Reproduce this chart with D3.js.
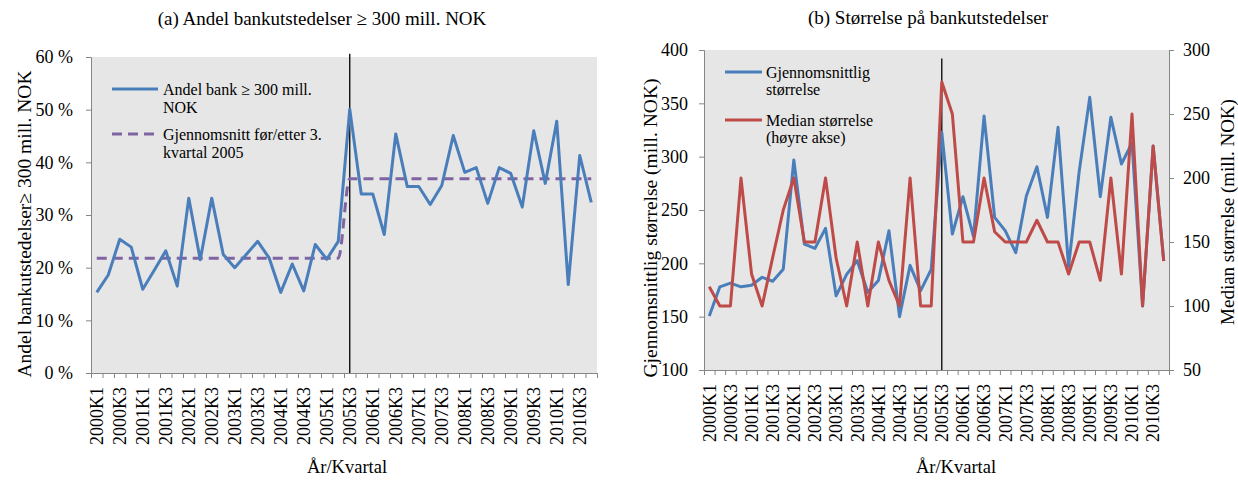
<!DOCTYPE html>
<html>
<head>
<meta charset="utf-8">
<script src="https://cdnjs.cloudflare.com/ajax/libs/d3/7.8.5/d3.min.js"></script>
<style>
  body { margin: 0; background: #fff; }
  svg text { font-family: "Liberation Serif", "Times New Roman", serif; fill: #000; }
  .axis path, .axis line { stroke: #868686; }
</style>
</head>
<body>
<div id="chart"></div>
<script>
/* Categories (quarters) */
var quarters = ["2000K1","2000K2","2000K3","2000K4","2001K1","2001K2","2001K3","2001K4",
                "2002K1","2002K2","2002K3","2002K4","2003K1","2003K2","2003K3","2003K4",
                "2004K1","2004K2","2004K3","2004K4","2005K1","2005K2","2005K3","2005K4",
                "2006K1","2006K2","2006K3","2006K4","2007K1","2007K2","2007K3","2007K4",
                "2008K1","2008K2","2008K3","2008K4","2009K1","2009K2","2009K3","2009K4",
                "2010K1","2010K2","2010K3","2010K4"];

/* (a) Andel bank >= 300 mill. NOK, percent */
var andelBank = [15.3,18.6,25.4,23.9,15.9,19.5,23.2,16.5,33.2,21.5,
                 33.2,22.5,20.0,22.5,25.0,21.8,15.3,20.7,15.6,24.4,
                 21.6,25.0,50.1,34.0,34.0,26.3,45.4,35.4,35.4,32.0,
                 35.6,45.1,38.1,39.0,32.2,39.0,37.9,31.5,46.0,36.0,
                 47.8,16.8,41.3,32.4];

/* (a) Gjennomsnitt før/etter 3. kvartal 2005 */
var gjSnitt = [21.8,21.8,21.8,21.8,21.8,21.8,21.8,21.8,21.8,21.8,21.8,
               21.8,21.8,21.8,21.8,21.8,21.8,21.8,21.8,21.8,21.8,21.8,
               36.9,36.9,36.9,36.9,36.9,36.9,36.9,36.9,36.9,36.9,36.9,
               36.9,36.9,36.9,36.9,36.9,36.9,36.9,36.9,36.9,36.9,36.9];

/* (b) Gjennomsnittlig størrelse (left axis) and median (right axis), mill. NOK */
var snittStr = [150.6,178,181.5,178,179.5,186.9,183.2,194.5,296.9,218,
                214,232.8,169.5,189.7,202.5,172.8,183.8,230.6,150,198.1,
                174.4,194.4,322.8,227.5,262.5,225,338.1,243.1,230.6,210,
                263.1,290.6,243.1,327.5,196.9,286,355.6,262.5,336.9,293.1,
                313,160,310,202.5];
var medianStr = [115,100,100,200,125,100,138,175,200,150,
                 150,200,137.5,100,150,100,150,120,100,200,
                 100,100,275,250,150,150,200,158,150,150,
                 150,167,150,150,125,150,150,120,200,125,
                 250,100,225,135];

/* Tick values */
var ticksA = [0,10,20,30,40,50,60];
var ticksBLeft = [100,150,200,250,300,350,400];
var ticksBRight = [50,100,150,200,250,300];
var breakQuarter = "2005K3";

var blue = "#4a7ebb", red = "#be4b48", purple = "#8064a2", plotBg = "#e6e6e6";

var svg = d3.select("#chart").append("svg")
    .attr("width", 1238).attr("height", 481);

/* Quarter scale: ticks between categories, points in the middle */
function makeX(left, right) {
    var band = d3.scaleBand().domain(quarters).range([left, right]).padding(0);
    var edges = d3.scaleLinear().domain([0, quarters.length]).range([left, right]);
    return {band: band, edges: edges, mid: function(q) { return band(q) + band.bandwidth() / 2; }};
}

function xAxis(x, bottom, titleX) {
    svg.append("g")
        .attr("class", "axis")
        .attr("transform", "translate(0," + bottom + ")")
        .call(d3.axisBottom(x.edges).tickValues(d3.range(quarters.length + 1)).tickSize(5).tickFormat(""))
        .call(function(g) { g.select(".domain").attr("stroke", "#868686"); });

    svg.append("g").selectAll("text")
        .data(quarters.filter(function(d, i) { return i % 2 === 0; }))
        .enter().append("text")
        .attr("transform", function(d) { return "translate(" + x.mid(d) + "," + (bottom + 14) + ") rotate(-90)"; })
        .attr("text-anchor", "end")
        .attr("dy", ".35em")
        .style("font-size", "18px")
        .text(function(d) { return d; });

    svg.append("text")
        .attr("x", titleX).attr("y", 473)
        .attr("text-anchor", "middle")
        .style("font-size", "18.5px")
        .text("År/Kvartal");
}

function yTitle(txt, x, y, size) {
    svg.append("text")
        .attr("transform", "translate(" + x + "," + y + ") rotate(-90)")
        .attr("text-anchor", "middle")
        .attr("dy", ".35em")
        .style("font-size", size)
        .text(txt);
}

/* ---------- (a) ---------- */
var A = {left: 91, right: 597, top: 57, bottom: 373};
var xA = makeX(A.left, A.right);
var yA = d3.scaleLinear().domain([0, 60]).range([A.bottom, A.top]);

svg.append("rect")
    .attr("x", A.left).attr("y", A.top)
    .attr("width", A.right - A.left).attr("height", A.bottom - A.top)
    .attr("fill", plotBg);

svg.append("text")
    .attr("x", 322).attr("y", 25)
    .attr("text-anchor", "middle")
    .style("font-size", "19px")
    .text("(a) Andel bankutstedelser ≥ 300 mill. NOK");

svg.append("g")
    .attr("class", "axis")
    .attr("transform", "translate(" + A.left + ",0)")
    .call(d3.axisLeft(yA).tickValues(ticksA).tickSize(5).tickPadding(13)
        .tickFormat(function(d) { return d + " %"; }))
    .call(function(g) {
        g.select(".domain").attr("stroke", "#868686");
        g.selectAll("text").style("font-size", "18px").attr("font-family", null);
    });

xAxis(xA, A.bottom, 347);
yTitle("Andel bankutstedelser≥ 300 mill. NOK", 24, 224, "19.5px");

/* break line at 2005K3 */
svg.append("line")
    .attr("x1", xA.mid(breakQuarter)).attr("x2", xA.mid(breakQuarter))
    .attr("y1", yA(60.6)).attr("y2", A.bottom)
    .attr("stroke", "#000").attr("stroke-width", 1.3);

svg.append("path")
    .datum(gjSnitt)
    .attr("fill", "none")
    .attr("stroke", purple)
    .attr("stroke-width", 3)
    .attr("stroke-dasharray", "10,6")
    .attr("d", d3.line()
        .x(function(d, i) { return xA.mid(quarters[i]); })
        .y(function(d) { return yA(d); })
        .curve(d3.curveMonotoneX));

svg.append("path")
    .datum(andelBank)
    .attr("fill", "none")
    .attr("stroke", blue)
    .attr("stroke-width", 3)
    .attr("stroke-linejoin", "round")
    .attr("d", d3.line()
        .x(function(d, i) { return xA.mid(quarters[i]); })
        .y(function(d) { return yA(d); }));

/* legend (a) */
var legA = svg.append("g").style("font-size", "16px");
legA.append("line").attr("x1", 112).attr("x2", 158).attr("y1", 89).attr("y2", 89)
    .attr("stroke", blue).attr("stroke-width", 3);
legA.append("text").attr("x", 163).attr("y", 95).text("Andel bank ≥ 300 mill.");
legA.append("text").attr("x", 163).attr("y", 113).text("NOK");
legA.append("line").attr("x1", 112).attr("x2", 158).attr("y1", 134).attr("y2", 134)
    .attr("stroke", purple).attr("stroke-width", 3).attr("stroke-dasharray", "10,6");
legA.append("text").attr("x", 163).attr("y", 140).text("Gjennomsnitt før/etter  3.");
legA.append("text").attr("x", 163).attr("y", 158).text("kvartal 2005");

/* ---------- (b) ---------- */
var B = {left: 704, right: 1169, top: 50, bottom: 370};
var xB = makeX(B.left, B.right);
var yBL = d3.scaleLinear().domain([100, 400]).range([B.bottom, B.top]);
var yBR = d3.scaleLinear().domain([50, 300]).range([B.bottom, B.top]);

svg.append("rect")
    .attr("x", B.left).attr("y", B.top)
    .attr("width", B.right - B.left).attr("height", B.bottom - B.top)
    .attr("fill", plotBg);

svg.append("text")
    .attr("x", 928).attr("y", 24)
    .attr("text-anchor", "middle")
    .style("font-size", "19px")
    .text("(b) Størrelse på bankutstedelser");

svg.append("g")
    .attr("class", "axis")
    .attr("transform", "translate(" + B.left + ",0)")
    .call(d3.axisLeft(yBL).tickValues(ticksBLeft).tickSize(5).tickPadding(11))
    .call(function(g) {
        g.select(".domain").attr("stroke", "#868686");
        g.selectAll("text").style("font-size", "18px").attr("font-family", null);
    });

svg.append("g")
    .attr("class", "axis")
    .attr("transform", "translate(" + B.right + ",0)")
    .call(d3.axisRight(yBR).tickValues(ticksBRight).tickSize(5).tickPadding(9))
    .call(function(g) {
        g.select(".domain").attr("stroke", "#868686");
        g.selectAll("text").style("font-size", "18px").attr("font-family", null);
    });

xAxis(xB, B.bottom, 956);
yTitle("Gjennomsnittlig størrelse (mill. NOK)", 650, 228, "19.5px");
yTitle("Median størrelse (mill. NOK)", 1227, 212, "19px");

svg.append("line")
    .attr("x1", xB.mid(breakQuarter)).attr("x2", xB.mid(breakQuarter))
    .attr("y1", yBL(392)).attr("y2", B.bottom)
    .attr("stroke", "#000").attr("stroke-width", 1.3);

svg.append("path")
    .datum(snittStr)
    .attr("fill", "none")
    .attr("stroke", blue)
    .attr("stroke-width", 3)
    .attr("stroke-linejoin", "round")
    .attr("d", d3.line()
        .x(function(d, i) { return xB.mid(quarters[i]); })
        .y(function(d) { return yBL(d); }));

svg.append("path")
    .datum(medianStr)
    .attr("fill", "none")
    .attr("stroke", red)
    .attr("stroke-width", 3)
    .attr("stroke-linejoin", "round")
    .attr("d", d3.line()
        .x(function(d, i) { return xB.mid(quarters[i]); })
        .y(function(d) { return yBR(d); }));

/* legend (b) */
var legB = svg.append("g").style("font-size", "16px");
legB.append("line").attr("x1", 725).attr("x2", 762).attr("y1", 72).attr("y2", 72)
    .attr("stroke", blue).attr("stroke-width", 3);
legB.append("text").attr("x", 766).attr("y", 78).text("Gjennomsnittlig");
legB.append("text").attr("x", 766).attr("y", 95).text("størrelse");
legB.append("line").attr("x1", 725).attr("x2", 762).attr("y1", 120).attr("y2", 120)
    .attr("stroke", red).attr("stroke-width", 3);
legB.append("text").attr("x", 766).attr("y", 126).text("Median størrelse");
legB.append("text").attr("x", 766).attr("y", 143).text("(høyre akse)");
</script>
</body>
</html>
